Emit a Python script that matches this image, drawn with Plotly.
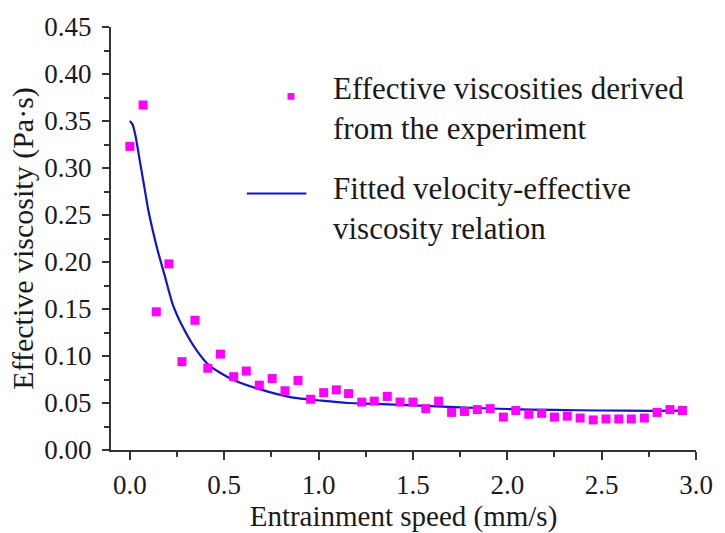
import plotly.graph_objects as go

# Experimental effective viscosities (Pa·s) vs entrainment speed (mm/s)
speed = [0.00, 0.07, 0.14, 0.207, 0.276, 0.345, 0.413, 0.48, 0.55, 0.617,
         0.686, 0.754, 0.822, 0.891, 0.958, 1.027, 1.094, 1.159, 1.229, 1.295,
         1.364, 1.432, 1.50, 1.568, 1.636, 1.705, 1.773, 1.841, 1.909, 1.979,
         2.045, 2.114, 2.182, 2.25, 2.318, 2.386, 2.455, 2.523, 2.591, 2.657,
         2.726, 2.794, 2.862, 2.928]
viscosity = [0.323, 0.367, 0.147, 0.198, 0.094, 0.138, 0.087, 0.102, 0.078, 0.084,
             0.069, 0.076, 0.063, 0.074, 0.054, 0.061, 0.064, 0.060, 0.051, 0.052,
             0.057, 0.051, 0.051, 0.044, 0.052, 0.040, 0.041, 0.043, 0.044, 0.035,
             0.042, 0.038, 0.039, 0.035, 0.036, 0.034, 0.032, 0.033, 0.033, 0.033,
             0.034, 0.040, 0.043, 0.042]

# Fitted velocity-effective viscosity relation
fit_speed = [0.0, 0.015, 0.03, 0.044, 0.061, 0.079, 0.096, 0.122, 0.149, 0.184, 0.227,
             0.28, 0.35, 0.42, 0.542, 0.682, 0.857, 1.015, 1.155, 1.3, 1.5,
             1.75, 2.0, 2.25, 2.5, 2.75, 2.93]
fit_visc = [0.350, 0.346, 0.334, 0.318, 0.298, 0.277, 0.257, 0.233, 0.211, 0.186, 0.155,
            0.131, 0.107, 0.090, 0.075, 0.065, 0.056, 0.0525, 0.050, 0.049, 0.0474,
            0.0453, 0.0436, 0.0426, 0.0420, 0.0417, 0.0419]

legend_labels = [["Effective viscosities derived", "from the experiment"],
                 ["Fitted velocity-effective", "viscosity relation"]]

FONT = "Liberation Serif, Times New Roman, Times, serif"
MAGENTA = "#ff00ff"
BLUE = "#1414c8"
AXIS = "#333333"
TXT = "#1a1a1a"

fig = go.Figure()
fig.add_trace(go.Scatter(x=fit_speed, y=fit_visc, mode="lines",
                         line=dict(color=BLUE, width=2.2, shape="spline", smoothing=0.6),
                         name=" ".join(legend_labels[1]), showlegend=False))
fig.add_trace(go.Scatter(x=speed, y=viscosity, mode="markers",
                         marker=dict(symbol="square", size=9, color=MAGENTA),
                         name=" ".join(legend_labels[0]), showlegend=False))

L, R, T, B = 111, 24, 20, 71
W, H = 725, 533
pw, ph = W - L - R, H - T - B


def px(x):
    return (x - L) / pw


def py(y):
    return (H - B - y) / ph


# manual legend
fig.add_shape(type="rect", xref="paper", yref="paper",
              x0=px(289), x1=px(296), y0=py(96), y1=py(89),
              fillcolor=MAGENTA, line=dict(width=0))
fig.add_shape(type="line", xref="paper", yref="paper",
              x0=px(248), x1=px(308), y0=py(194), y1=py(194),
              line=dict(color=BLUE, width=2))
item_y = [105, 210]
for labels, yy in zip(legend_labels, item_y):
    fig.add_annotation(text="<br>".join(labels), xref="paper", yref="paper",
                       x=px(333), y=py(yy), xanchor="left", yanchor="middle", align="left",
                       showarrow=False, font=dict(family=FONT, size=31, color=TXT))

fig.update_layout(
    width=W, height=H,
    margin=dict(l=L, r=R, t=T, b=B),
    paper_bgcolor="white", plot_bgcolor="white",
    font=dict(family=FONT, color=TXT),
    showlegend=False,
)
fig.update_xaxes(
    range=[-0.1, 3.0], tickmode="linear", tick0=0, dtick=0.5, tickformat=".1f",
    showgrid=False, zeroline=False, showline=True, linecolor=AXIS, linewidth=2,
    ticks="outside", ticklen=8, tickwidth=1.5, tickcolor=AXIS,
    minor=dict(ticks="outside", ticklen=5, tickwidth=1.5, tickcolor=AXIS, dtick=0.25, tick0=0),
    tickfont=dict(family=FONT, size=27, color=TXT), ticklabelstandoff=2,
    title=dict(text="Entrainment speed (mm/s)", font=dict(family=FONT, size=29, color=TXT),
               standoff=0),
)
fig.update_yaxes(
    range=[0, 0.45], tickmode="linear", tick0=0, dtick=0.05, tickformat=".2f",
    showgrid=False, zeroline=False, showline=True, linecolor=AXIS, linewidth=2,
    ticks="outside", ticklen=7, tickwidth=1.5, tickcolor=AXIS,
    minor=dict(ticks="outside", ticklen=5, tickwidth=1.5, tickcolor=AXIS, dtick=0.025, tick0=0),
    tickfont=dict(family=FONT, size=27, color=TXT), ticklabelstandoff=5,
    title=dict(text="Effective viscosity (Pa·s)", font=dict(family=FONT, size=30, color=TXT),
               standoff=2),
)

fig.write_html("out.html")
